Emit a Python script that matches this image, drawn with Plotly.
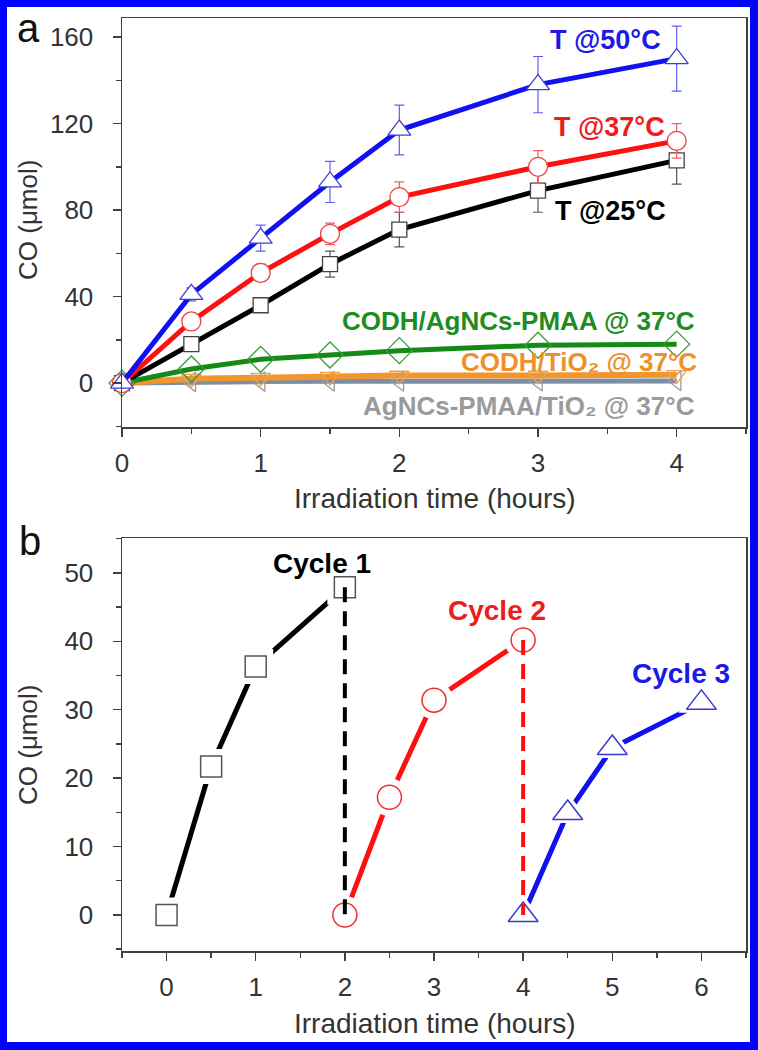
import plotly.graph_objects as go

# ---------------- data: panel a ----------------
time_a = [0, 0.5, 1, 1.5, 2, 3, 4]
co_25 = [0, 18, 36, 55, 71, 89, 103]
err_25 = [0, 2, 3, 6, 8, 10, 11]
co_37 = [0, 28.5, 51, 69, 86, 100, 112]
err_37 = [0, 3, 4, 5, 7, 7.5, 8]
co_50 = [0, 41, 67, 93, 117, 138, 150]
err_50 = [0, 3, 6, 9.5, 11.5, 13, 15]
co_codh_ag = [0, 6.5, 11, 13, 15, 17.5, 18]
co_codh_tio2 = [0, 2, 2.5, 3, 3.5, 3.5, 3.8]
co_ag_tio2 = [0, 0.5, 0.7, 0.8, 0.8, 0.9, 1.0]

# ---------------- data: panel b ----------------
cycle1_t = [0, 0.5, 1, 2]
cycle1_co = [0, 21.7, 36.3, 47.9]
cycle2_t = [2, 2.5, 3, 4]
cycle2_co = [0, 17.2, 31.4, 40.2]
cycle3_t = [4, 4.5, 5, 6]
cycle3_co = [0, 14.9, 24.4, 31.0]

W, H = 758, 1050
FONT = "Liberation Sans, Arial, Helvetica, DejaVu Sans, sans-serif"


def X(p):
    return p / W


def Y(p):
    return 1 - p / H


fig = go.Figure()

# panel a series: (y, err, line color, marker symbol, size, marker line color, fill, line width)
series_a = [
    (co_ag_tio2, None, "#7b8ea6", "triangle-left", 17, "#9a9a9a", "rgba(0,0,0,0)", 5),
    (co_codh_tio2, None, "#f0962d", "triangle-down", 17, "#f0a050", "rgba(0,0,0,0)", 6),
    (co_codh_ag, None, "#168a16", "diamond", 20, "#3a9a3a", "rgba(0,0,0,0)", 5),
    (co_25, err_25, "#000000", "square", 15, "#444444", "white", 5),
    (co_37, err_37, "#ff1010", "circle", 19, "#f04040", "white", 5),
    (co_50, err_50, "#1010f0", "triangle-up", 20, "#4040d0", "white", 5),
]
err_colors = {"#000000": "#555555", "#ff1010": "#f06060", "#1010f0": "#6060f0"}
for y, err, col, sym, size, mline, fill, lw in series_a:
    kw = {}
    if err is not None:
        kw["error_y"] = dict(type="data", array=err, visible=True,
                             color=err_colors[col], thickness=1.2, width=5)
    fig.add_trace(go.Scatter(
        x=time_a, y=y, mode="lines+markers", xaxis="x", yaxis="y",
        line=dict(color=col, width=lw),
        marker=dict(symbol=sym, size=size, color=fill,
                    line=dict(color=mline, width=1.3)),
        cliponaxis=False, showlegend=False, **kw))

# panel b cycles
cycles = [
    (cycle1_t, cycle1_co, "#000000", "square", 21, "#555555"),
    (cycle2_t, cycle2_co, "#ff1010", "circle", 24, "#f03030"),
    (cycle3_t, cycle3_co, "#1010f0", "triangle-up", 26, "#3a3ad0"),
]
for t, c, col, sym, size, mline in cycles:
    fig.add_trace(go.Scatter(x=t, y=c, mode="lines", xaxis="x2", yaxis="y2",
                             line=dict(color=col, width=5), showlegend=False))
    fig.add_trace(go.Scatter(x=t, y=c, mode="markers", xaxis="x2", yaxis="y2",
                             marker=dict(symbol=sym, size=size + 14, color="white",
                                         line=dict(width=0)),
                             cliponaxis=False, showlegend=False, hoverinfo="skip"))
    fig.add_trace(go.Scatter(x=t, y=c, mode="markers", xaxis="x2", yaxis="y2",
                             marker=dict(symbol=sym, size=size, color="rgba(0,0,0,0)",
                                         line=dict(color=mline, width=1.5)),
                             cliponaxis=False, showlegend=False))

# dashed separators between cycles
for t, c, col in [(cycle1_t, cycle1_co, "#000000"), (cycle2_t, cycle2_co, "#ff1010")]:
    fig.add_trace(go.Scatter(x=[t[-1], t[-1]], y=[c[-1], 0], mode="lines",
                             xaxis="x2", yaxis="y2",
                             line=dict(color=col, width=4, dash="15px,9px"),
                             showlegend=False))

axis_common = dict(
    showline=True, mirror=True, linecolor="#404040", linewidth=1.5,
    ticks="outside", ticklen=8, tickwidth=1.5, tickcolor="#404040",
    showgrid=False, zeroline=False, automargin=False,
    tickfont=dict(family=FONT, size=26, color="#333333"),
)
minor_common = dict(ticks="outside", ticklen=5, tickwidth=1.5, tickcolor="#404040",
                    showgrid=False)

xdom = [X(122), X(746)]
fig.update_layout(
    width=W, height=H,
    margin=dict(l=0, r=0, t=0, b=0),
    paper_bgcolor="white", plot_bgcolor="white",
    template="none",
    font=dict(family=FONT),
    xaxis=dict(domain=xdom, range=[0, 4.5], anchor="y", tickmode="linear",
               tick0=0, dtick=1, ticklabelstandoff=4,
               minor=dict(dtick=0.5, **minor_common), **axis_common),
    yaxis=dict(domain=[Y(427), Y(18)], range=[-20.3, 168.8], anchor="x",
               tickmode="linear", tick0=0, dtick=40, ticklabelstandoff=14,
               minor=dict(dtick=20, **minor_common), **axis_common),
    xaxis2=dict(domain=xdom, range=[-0.5, 6.5], anchor="y2", tickmode="linear",
                tick0=0, dtick=1, ticklabelstandoff=4,
                minor=dict(dtick=0.5, **minor_common), **axis_common),
    yaxis2=dict(domain=[Y(951), Y(538)], range=[-5.27, 55.1], anchor="x2",
                tickmode="linear", tick0=0, dtick=10, ticklabelstandoff=14,
                minor=dict(dtick=5, **minor_common), **axis_common),
)

annotations = []


def add_text(text, px, py, size, color, angle=0, bold=False):
    annotations.append(dict(
        text=text, x=X(px), y=Y(py), xref="paper", yref="paper",
        xanchor="center", yanchor="middle", showarrow=False, textangle=angle,
        font=dict(family=FONT, size=size, color=color,
                  weight="bold" if bold else "normal")))


# axis titles
add_text("Irradiation time (hours)", 435, 498, 28, "#333333")
add_text("Irradiation time (hours)", 435, 1023, 28, "#333333")
add_text("CO (μmol)", 28, 220, 26, "#333333", angle=-90)
add_text("CO (μmol)", 28, 745, 26, "#333333", angle=-90)
# panel labels
add_text("a", 28, 28, 40, "#111111")
add_text("b", 30, 541, 40, "#111111")
# series labels panel a
add_text("T @50°C", 605, 40, 27, "#1a1ae6", bold=True)
add_text("T @37°C", 609, 127, 27, "#ee1c1c", bold=True)
add_text("T @25°C", 610, 211, 27, "#000000", bold=True)
add_text("CODH/AgNCs-PMAA @ 37°C", 518, 321, 26, "#1e8c1e", bold=True)
add_text("CODH/TiO₂ @ 37°C", 579, 362, 26, "#f0902a", bold=True)
add_text("AgNCs-PMAA/TiO₂ @ 37°C", 529, 406, 26, "#9a9a9a", bold=True)
# cycle labels panel b
add_text("Cycle 1", 322, 563, 28, "#000000", bold=True)
add_text("Cycle 2", 497, 610, 28, "#ee1c1c", bold=True)
add_text("Cycle 3", 681, 673, 28, "#1a1ae6", bold=True)

fig.update_layout(annotations=annotations)

# blue frame around the figure
blue = "#0000ff"
shapes = [
    dict(type="rect", xref="paper", yref="paper", x0=0, x1=X(7), y0=0, y1=1),
    dict(type="rect", xref="paper", yref="paper", x0=X(750), x1=1, y0=0, y1=1),
    dict(type="rect", xref="paper", yref="paper", x0=0, x1=1, y0=Y(7), y1=1),
    dict(type="rect", xref="paper", yref="paper", x0=0, x1=1, y0=0, y1=Y(1042)),
]
for s in shapes:
    s.update(fillcolor=blue, line=dict(width=0), layer="above")
fig.update_layout(shapes=shapes)

fig.write_html(
    "out.html",
    config={"displayModeBar": False, "staticPlot": True},
    post_script="document.body.style.margin='0';document.body.style.padding='0';"
                "document.body.style.overflow='hidden';",
)
